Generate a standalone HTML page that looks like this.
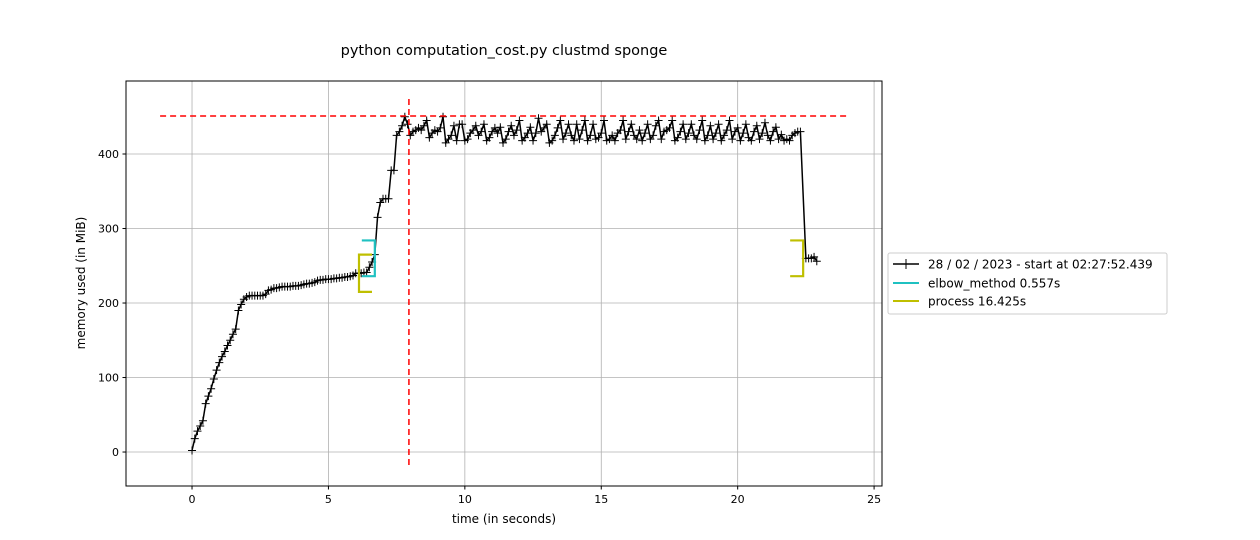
<!DOCTYPE html>
<html><head><meta charset="utf-8">
<style>
html,body{margin:0;padding:0;background:#fff;}
svg{display:block;font-family:"DejaVu Sans","Liberation Sans",sans-serif;}
</style></head>
<body>
<svg id="chart" width="1260" height="540" viewBox="0 0 1260 540" xmlns="http://www.w3.org/2000/svg">
<rect width="1260" height="540" fill="#fff"/>
<text x="504" y="55" font-size="14.5" text-anchor="middle" fill="#000">python computation_cost.py clustmd sponge</text>
<g id="grid"></g>
<g id="marks"></g>
<rect x="126" y="81" width="756" height="405" fill="none" stroke="#000" stroke-width="1"/>
<g id="ticks"></g>
<text x="504" y="523" font-size="12" text-anchor="middle">time (in seconds)</text>
<text transform="translate(85,283) rotate(-90)" font-size="12" text-anchor="middle">memory used (in MiB)</text>
<g>
<rect x="888" y="253" width="279" height="61" rx="2" fill="#fff" stroke="#ccc"/>
<g>
<line x1="893" y1="264" x2="919" y2="264" stroke="#000" stroke-width="1.5"/>
<line x1="906" y1="259" x2="906" y2="269" stroke="#000" stroke-width="1"/>
<text x="928" y="268.5" font-size="12">28 / 02 / 2023 - start at 02:27:52.439</text></g>
<g>
<line x1="893" y1="283" x2="919" y2="283" stroke="#1fc1c1" stroke-width="2"/>
<text x="928" y="287.5" font-size="12">elbow_method 0.557s</text></g>
<g>
<line x1="893" y1="301" x2="919" y2="301" stroke="#bfbf00" stroke-width="2"/>
<text x="928" y="305.5" font-size="12">process 16.425s</text></g>
</g>
</svg>
<script>
const xTicks=[0,5,10,15,20,25];
const yTicks=[0,100,200,300,400];
const memValues=[2,18,28,35,42,65,75,85,98,110,120,128,135,143,150,158,165,190,198,205,208,210,210,210,210,210,210,212,217,218,220,220,221,222,222,222,222,223,223,223,224,225,226,226,227,228,230,231,231,232,232,232,233,233,234,234,235,235,236,237,240,240,240,241,241,248,255,265,315,335,340,340,340,378,378,425,430,438,450,440,425,430,432,435,432,438,445,422,428,432,430,435,450,415,420,425,438,418,440,440,
418,420,428,432,438,425,430,440,418,422,430,435,428,436,415,420,430,438,425,432,445,418,422,428,436,418,428,448,430,435,440,415,418,425,435,445,420,428,440,425,418,440,420,432,445,418,425,440,420,422,428,445,418,420,425,418,428,432,445,420,430,440,425,420,432,418,428,440,420,425,438,445,420,430,432,435,445,418,422,430,440,420,428,440,425,
420,432,445,418,425,438,420,428,440,418,425,432,445,420,430,435,418,428,440,422,418,430,438,420,428,442,425,418,430,436,420,426,
418,420,418,425,428,430,430,260,260,260,262,256];
const tailCount=5;
const memTimes=memValues.map((_,i)=>i<memValues.length-tailCount?i*0.1:22.5+(i-(memValues.length-tailCount))*0.1);
const elbowEnd=6.7, elbowLow=236, elbowHigh=284;
const procStart=6.12, procEnd=22.4, procLow=215, procHigh=265, procEndLow=236, procEndHigh=284;
const peakMem=451, peakTime=7.95;

const X0=-2.42,X1=25.29,Y0=-45.6,Y1=498;
const L=126,R=882,T=81,B=486;
const sx=v=>L+(v-X0)/(X1-X0)*(R-L);
const sy=v=>B-(v-Y0)/(Y1-Y0)*(B-T);
const NS="http://www.w3.org/2000/svg";
function mk(tag,attrs,parent){const e=document.createElementNS(NS,tag);for(const k in attrs)e.setAttribute(k,attrs[k]);parent.appendChild(e);return e;}
const grid=document.getElementById('grid'),ticks=document.getElementById('ticks'),marks=document.getElementById('marks');
xTicks.forEach(t=>{const x=sx(t);
 const g=mk('line',{x1:x,x2:x,y1:T,y2:B,stroke:'#b0b0b0','stroke-width':0.8},grid);
 
 
 mk('line',{x1:x,x2:x,y1:B,y2:B+3.5,stroke:'#000'},ticks);
 const tx=mk('text',{x:x,y:B+17,'font-size':11,'text-anchor':'middle'},ticks);tx.textContent=t;
 
 });
yTicks.forEach(t=>{const y=sy(t);
 const g=mk('line',{x1:L,x2:R,y1:y,y2:y,stroke:'#b0b0b0','stroke-width':0.8},grid);
 
 
 mk('line',{x1:L-3.5,x2:L,y1:y,y2:y,stroke:'#000'},ticks);
 const tx=mk('text',{x:L-7,y:y+4,'font-size':11,'text-anchor':'end'},ticks);tx.textContent=t;
 
 });
const pts=memValues.map((v,i)=>sx(memTimes[i]).toFixed(1)+','+sy(v).toFixed(1)).join(' ');
const line=mk('polyline',{points:pts,fill:'none',stroke:'#000','stroke-width':1.5},marks);


let d='';memValues.forEach((v,i)=>{const x=sx(memTimes[i]),y=sy(v);d+=`M${x-4},${y}h8M${x},${y-4}v8`;});
const mp=mk('path',{d:d,stroke:'#000','stroke-width':1,fill:'none'},marks);


function bracket(t,lo,hi,open,color,name){const x=sx(t),w=open?13:-13;
 const p=mk('path',{d:`M${x+w},${sy(hi)}H${x}V${sy(lo)}H${x+w}`,stroke:color,'stroke-width':2.2,fill:'none'},marks);
 
 }
bracket(elbowEnd,elbowLow,elbowHigh,false,'#1fc1c1','elbow-end-bracket');
bracket(procStart,procLow,procHigh,true,'#bfbf00','process-start-bracket');
bracket(procEnd,procEndLow,procEndHigh,false,'#bfbf00','process-end-bracket');
const h=mk('line',{x1:sx(-1.17),x2:sx(24.05),y1:sy(peakMem),y2:sy(peakMem),stroke:'#f00','stroke-width':1.5,'stroke-dasharray':'6,4'},marks);


const v=mk('line',{x1:sx(peakTime),x2:sx(peakTime),y1:99,y2:467,stroke:'#f00','stroke-width':1.5,'stroke-dasharray':'6,4'},marks);


</script>
</body></html>
